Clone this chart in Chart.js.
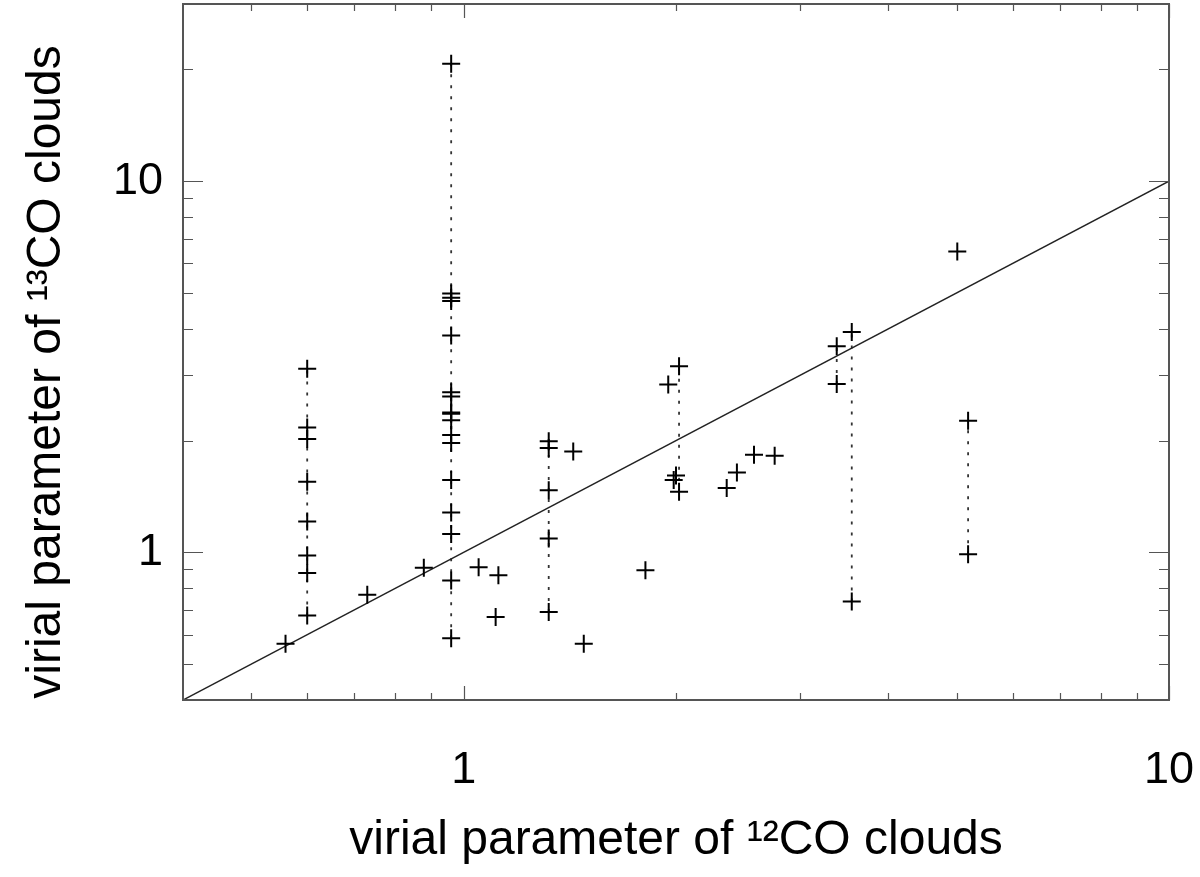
<!DOCTYPE html>
<html>
<head>
<meta charset="utf-8">
<script src="https://cdn.jsdelivr.net/npm/chart.js@4.4.1/dist/chart.umd.min.js"></script>
<style>
    html, body { margin: 0; padding: 0; background: #fff; }
    #wrap { width: 1200px; height: 877px; }
</style>
</head>
<body>
<div id="wrap"><canvas id="chart"></canvas></div>
<script>
// Virial parameter of 12CO clouds (x) vs 13CO clouds (y)
const xVals = [
    0.60, 0.60, 0.60, 0.60, 0.60, 0.60, 0.60, 0.60,
    0.559, 0.73, 0.878,
    0.96, 0.96, 0.96, 0.96, 0.96, 0.96, 0.96, 0.96, 0.96, 0.96, 0.96, 0.96, 0.96, 0.96, 0.96, 0.96, 0.96,
    1.05, 1.12, 1.11,
    1.32, 1.32, 1.32, 1.32, 1.32,
    1.43, 1.48, 1.81,
    2.02, 2.00, 1.985, 2.02, 1.95,
    2.36, 2.44, 2.58, 2.76,
    3.38, 3.38, 3.55, 3.55,
    5.01, 5.19, 5.19
];
const yVals = [
    3.12, 2.17, 2.02, 1.55, 1.21, 0.98, 0.88, 0.676,
    0.567, 0.769, 0.908,
    20.7, 4.98, 4.85, 4.75, 3.84, 2.70, 2.63, 2.38, 2.36, 2.27, 2.07, 1.97, 1.565, 1.28, 1.12, 0.84, 0.587,
    0.912, 0.867, 0.669,
    1.99, 1.91, 1.47, 1.09, 0.69,
    1.87, 0.567, 0.894,
    3.17, 1.61, 1.565, 1.455, 2.83,
    1.49, 1.64, 1.83, 1.82,
    3.59, 2.84, 3.92, 0.737,
    6.46, 2.26, 0.988
];

// dotted links between values of the same cloud
const linkX    = [0.60, 0.96, 1.32, 2.02, 3.38, 3.55, 5.19];
const linkYLow = [0.676, 0.587, 0.69, 1.455, 2.84, 0.737, 0.988];
const linkYHigh = [3.12, 20.7, 1.99, 3.17, 3.59, 3.92, 2.26];

// one-to-one line
const diagX = [0.4, 10];
const diagY = [0.4, 10];

// axis ticks
const xLabelTicks = [1, 10];
const yLabelTicks = [1, 10];
const xMinorTicks = [0.5, 0.6, 0.7, 0.8, 0.9, 2, 3, 4, 5, 6, 7, 8, 9];
const yMinorTicks = [0.5, 0.6, 0.7, 0.8, 0.9, 2, 3, 4, 5, 6, 7, 8, 9, 20, 30];

const FONT = "'Liberation Sans', Arial, sans-serif";

const points = xVals.map((x, i) => ({ x: x, y: yVals[i] }));

const linkSets = linkX.map((x, i) => ({
    data: [{ x: x, y: linkYLow[i] }, { x: x, y: linkYHigh[i] }],
    showLine: true,
    borderColor: '#333',
    borderWidth: 1.8,
    borderDash: [3, 8],
    pointRadius: 0
}));

// keep tick labels from pushing the plot area in
function noPadding(scale) {
    scale.paddingTop = 0;
    scale.paddingBottom = 0;
    scale.paddingLeft = 0;
    scale.paddingRight = 0;
}

// Frame with inward tick marks on all four sides
const frameTicks = {
    id: 'frameTicks',
    afterDatasetsDraw(chart) {
        const { ctx, chartArea: a, scales: { x, y } } = chart;
        ctx.save();
        ctx.strokeStyle = '#555';
        ctx.lineWidth = 2;
        ctx.strokeRect(a.left, a.top, a.right - a.left, a.bottom - a.top);

        ctx.beginPath();
        const xTick = (v, len) => {
            const p = Math.round(x.getPixelForValue(v)) + 0.5;
            ctx.moveTo(p, a.bottom); ctx.lineTo(p, a.bottom - len);
            ctx.moveTo(p, a.top); ctx.lineTo(p, a.top + len);
        };
        const yTick = (v, len) => {
            const p = Math.round(y.getPixelForValue(v)) + 0.5;
            ctx.moveTo(a.left, p); ctx.lineTo(a.left + len, p);
            ctx.moveTo(a.right, p); ctx.lineTo(a.right - len, p);
        };
        xMinorTicks.forEach(v => xTick(v, 7));
        xLabelTicks.forEach(v => xTick(v, 14));
        yMinorTicks.forEach(v => yTick(v, 10));
        yLabelTicks.forEach(v => yTick(v, 20));
        ctx.lineWidth = 1.2;
        ctx.stroke();
        ctx.restore();
    }
};

new Chart(document.getElementById('chart'), {
    type: 'scatter',
    data: {
        datasets: [
            {
                data: points,
                pointStyle: 'cross',
                pointRadius: 9,
                borderColor: '#000',
                borderWidth: 2
            },
            {
                data: diagX.map((x, i) => ({ x: x, y: diagY[i] })),
                showLine: true,
                borderColor: '#222',
                borderWidth: 1.5,
                pointRadius: 0
            },
            ...linkSets
        ]
    },
    options: {
        responsive: true,
        maintainAspectRatio: false,
        animation: false,
        layout: {
            autoPadding: false,
            padding: { top: 4, right: 31, left: 0, bottom: 0 }
        },
        plugins: {
            legend: { display: false },
            tooltip: { enabled: false }
        },
        scales: {
            x: {
                type: 'logarithmic',
                position: 'bottom',
                min: 0.4,
                max: 10,
                grid: { display: false, drawTicks: false },
                border: { display: false },
                afterBuildTicks: (scale) => { scale.ticks = xLabelTicks.map(v => ({ value: v })); },
                afterFit: (scale) => { scale.height = 177; noPadding(scale); },
                ticks: {
                    autoSkip: false,
                    maxRotation: 0,
                    padding: 44,
                    color: '#000',
                    font: { family: FONT, size: 45 },
                    callback: (v) => String(v)
                },
                title: {
                    display: true,
                    text: 'virial parameter of \u00b9\u00b2CO clouds',
                    color: '#000',
                    font: { family: FONT, size: 48 },
                    padding: { top: 0, bottom: 7 }
                }
            },
            y: {
                type: 'logarithmic',
                position: 'left',
                min: 0.4,
                max: 30,
                grid: { display: false, drawTicks: false },
                border: { display: false },
                afterBuildTicks: (scale) => { scale.ticks = yLabelTicks.map(v => ({ value: v })); },
                afterFit: (scale) => { scale.width = 183; noPadding(scale); },
                ticks: {
                    autoSkip: false,
                    padding: 20,
                    color: '#000',
                    font: { family: FONT, size: 45 },
                    callback: (v) => String(v)
                },
                title: {
                    display: true,
                    text: 'virial parameter of \u00b9\u00b3CO clouds\u00a0\u00a0\u00a0',
                    color: '#000',
                    font: { family: FONT, size: 48 },
                    padding: { top: 18, bottom: 0 }
                }
            }
        }
    },
    plugins: [frameTicks]
});
</script>
</body>
</html>
